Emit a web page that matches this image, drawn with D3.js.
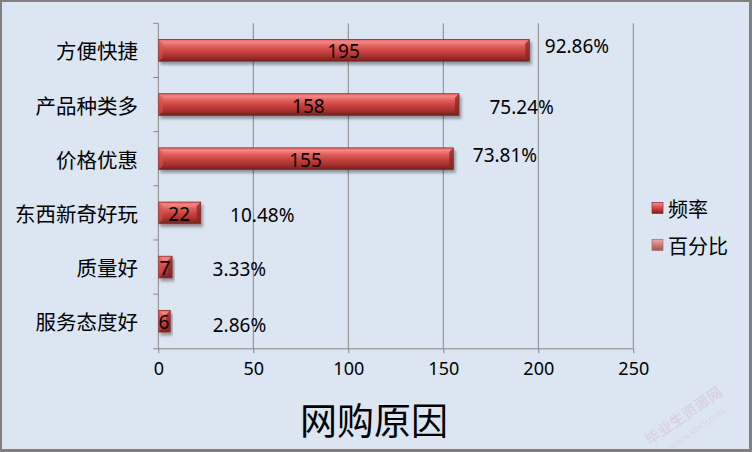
<!DOCTYPE html>
<html><head><meta charset="utf-8">
<script src="https://cdn.jsdelivr.net/npm/d3@7/dist/d3.min.js"></script>
<style>
html,body{margin:0;padding:0;background:#fff;}
svg{display:block;}
</style></head>
<body>
<script>
// ---- data ----
const categories = ["方便快捷","产品种类多","价格优惠","东西新奇好玩","质量好","服务态度好"];
const freq = [195,158,155,22,7,6];
const pct = [92.86,75.24,73.81,10.48,3.33,2.86];
const seriesNames = ["频率","百分比"];
const xTicks = [0,50,100,150,200,250];
const title = "网购原因";
// ---- layout (label nudges, px) ----
const labelDx = [16,31,20,30,41,43];
const labelDy = [-4,2,-4,2,2,4];

const W = 752, H = 452;
const svg = d3.select("body").append("svg").attr("width",W).attr("height",H);
const defs = svg.append("defs");

const g1 = defs.append("linearGradient").attr("id","barG").attr("x1",0).attr("y1",0).attr("x2",0).attr("y2",1);
[[0,"#e46a67"],[0.12,"#f58684"],[0.3,"#e0605d"],[0.55,"#c9413e"],[0.8,"#a32e2c"],[1,"#742120"]]
  .forEach(s=>g1.append("stop").attr("offset",s[0]).attr("stop-color",s[1]));
const g2 = defs.append("linearGradient").attr("id","legG2").attr("x1",0).attr("y1",0).attr("x2",0).attr("y2",1);
[[0,"#e8a9a8"],[0.5,"#c97a78"],[1,"#a05856"]]
  .forEach(s=>g2.append("stop").attr("offset",s[0]).attr("stop-color",s[1]));
const sh = defs.append("filter").attr("id","shadow").attr("x","-10%").attr("y","-20%").attr("width","130%").attr("height","170%");
sh.append("feGaussianBlur").attr("in","SourceAlpha").attr("stdDeviation",1.6).attr("result","b");
sh.append("feOffset").attr("dx",1.5).attr("dy",2.5).attr("result","o");
sh.append("feComponentTransfer").append("feFuncA").attr("type","linear").attr("slope",0.35);
const m = sh.append("feMerge"); m.append("feMergeNode"); m.append("feMergeNode").attr("in","SourceGraphic");

// background + border
svg.append("rect").attr("x",0).attr("y",0).attr("width",W).attr("height",H).attr("fill","#808080");
svg.append("rect").attr("x",2).attr("y",2).attr("width",W-5).attr("height",H-5).attr("fill","#dce6f2");

const x = d3.scaleLinear().domain([0,250]).range([158.3,633.3]);
const y = d3.scaleBand().domain(categories).range([23.3,348.3]).paddingInner(0.6).paddingOuter(0.3);
const yb = d3.scaleBand().domain(categories).range([23.3,348.3]);

const grid = "#868686";
// gridlines
svg.append("g").selectAll("line").data(xTicks.filter(d=>d>0)).join("line")
  .attr("x1",d=>x(d)).attr("x2",d=>x(d)).attr("y1",23.3).attr("y2",348.3)
  .attr("stroke",grid).attr("stroke-width",1);

// x axis
const xa = svg.append("g").attr("transform","translate(0,348.3)")
  .call(d3.axisBottom(x).tickValues(xTicks).tickSize(5).tickPadding(9));
xa.select(".domain").attr("stroke",grid).attr("d",`M${x(0)-5},0.5H${x(250)}`);
xa.selectAll(".tick line").attr("stroke",grid);
xa.selectAll("text").attr("font-family","'Noto Sans',sans-serif").attr("font-size",18).attr("fill","#000");

// y axis
svg.append("line").attr("x1",x(0)).attr("x2",x(0)).attr("y1",23.3).attr("y2",348.3).attr("stroke",grid);
const bounds = categories.map(c=>yb(c));
svg.append("g").selectAll("line").data(bounds).join("line")
  .attr("x1",x(0)-5).attr("x2",x(0)).attr("y1",d=>d).attr("y2",d=>d).attr("stroke",grid);
svg.append("g").selectAll("text").data(categories).join("text")
  .attr("x",138).attr("y",d=>yb(d)+yb.bandwidth()/2)
  .attr("text-anchor","end").attr("dominant-baseline","central")
  .attr("font-family","'Noto Sans CJK SC',sans-serif").attr("font-size",20.5).attr("fill","#000")
  .text(d=>d);

// bars
const bars = svg.append("g").selectAll("g").data(categories).join("g").attr("filter","url(#shadow)");
bars.append("rect")
  .attr("x",x(0)+0.5).attr("y",d=>y(d)).attr("width",(d,i)=>x(freq[i])-x(0))
  .attr("height",y.bandwidth()).attr("fill","url(#barG)").attr("stroke","#8c2a28").attr("stroke-width",0.8);
// bevels
bars.append("path").attr("d",(d,i)=>{
  const x0=x(0)+0.5, x1=x0+x(freq[i])-x(0), t=y(d), b=t+y.bandwidth(), e=Math.min(4,(x1-x0)/3);
  return `M${x1-e},${t+e}L${x1},${t}L${x1},${b}L${x1-e},${b-e}Z`;
}).attr("fill","#8a2624").attr("opacity",0.75);
bars.append("path").attr("d",(d,i)=>{
  const x0=x(0)+0.5, t=y(d), b=t+y.bandwidth(), e=Math.min(4,(x(freq[i])-x(0))/3);
  return `M${x0},${t}L${x0+e},${t+e}L${x0+e},${b-e}L${x0},${b}Z`;
}).attr("fill","#d8524f").attr("opacity",0.6);

// value labels
svg.append("g").selectAll("text").data(categories).join("text")
  .attr("x",(d,i)=>(x(0)+x(freq[i]))/2).attr("y",d=>y(d)+y.bandwidth()/2+1)
  .attr("text-anchor","middle").attr("dominant-baseline","central")
  .attr("font-family","'Noto Sans',sans-serif").attr("font-size",19).attr("fill","#000")
  .text((d,i)=>freq[i]);

// percent labels
svg.append("g").selectAll("text").data(categories).join("text")
  .attr("x",(d,i)=>x(freq[i])+labelDx[i]).attr("y",(d,i)=>y(d)+y.bandwidth()/2+labelDy[i])
  .attr("dominant-baseline","central")
  .attr("font-family","'Noto Sans',sans-serif").attr("font-size",19).attr("fill","#000")
  .text((d,i)=>pct[i].toFixed(2)+"%");

// legend
const leg = svg.append("g").attr("transform","translate(652,0)");
const ly = [208,245];
seriesNames.forEach((n,i)=>{
  leg.append("rect").attr("x",0).attr("y",ly[i]-5.5).attr("width",11).attr("height",11)
    .attr("fill",i===0?"url(#barG)":"url(#legG2)").attr("stroke",i===0?"#8c2a28":"#a66a68").attr("stroke-width",0.7);
  leg.append("text").attr("x",16).attr("y",ly[i]).attr("dominant-baseline","central")
    .attr("font-family","'Noto Sans CJK SC',sans-serif").attr("font-size",20).attr("fill","#000").text(n);
});

// title
svg.append("text").attr("x",374).attr("y",419).attr("text-anchor","middle").attr("dominant-baseline","central")
  .attr("font-family","'Noto Sans CJK SC',sans-serif").attr("font-size",37).attr("font-weight",400).attr("fill","#000")
  .text(title);

// faint watermark
const wm = svg.append("g").attr("transform","translate(690,425) rotate(-35)").attr("opacity",0.18);
wm.append("text").attr("x",0).attr("y",-6).attr("text-anchor","middle").attr("font-family","'Noto Sans CJK SC',sans-serif")
  .attr("font-size",15).attr("font-weight",700).attr("fill","#c98080").text("毕业生资源网");
wm.append("text").attr("x",4).attr("y",10).attr("text-anchor","middle").attr("font-family","'DejaVu Serif',serif")
  .attr("font-size",9).attr("fill","#c98080").text("www.sbvv.com");
</script>
</body></html>
